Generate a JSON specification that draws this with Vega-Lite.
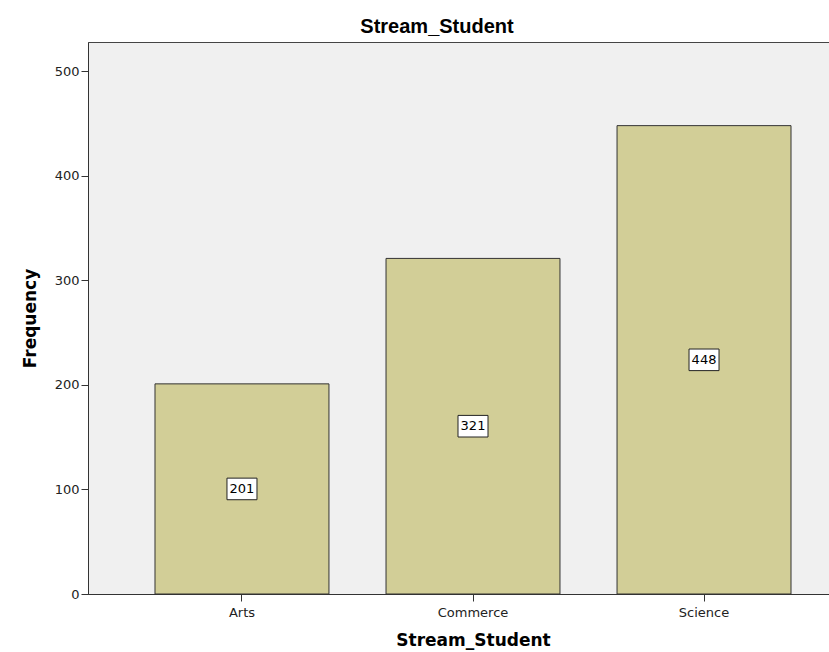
{
  "$schema": "https://vega.github.io/schema/vega-lite/v6.json",
  "autosize": {"type": "none"},
  "padding": {"left": 88, "top": 42, "right": 0, "bottom": 58},
  "width": 770,
  "height": 552,
  "background": "white",
  "title": {
    "text": "Stream_Student",
    "font": "Liberation Sans",
    "fontSize": 20,
    "fontWeight": "bold",
    "color": "#000000",
    "offset": 5,
    "dx": -36
  },
  "data": {
    "values": [
      {"Stream_Student": "Arts", "Frequency": 201},
      {"Stream_Student": "Commerce", "Frequency": 321},
      {"Stream_Student": "Science", "Frequency": 448}
    ]
  },
  "config": {
    "view": {"fill": "#F0F0F0", "stroke": "#444444", "strokeWidth": 1},
    "axis": {
      "labelFont": "DejaVu Sans",
      "labelFontSize": 13,
      "labelColor": "#222222",
      "titleFont": "DejaVu Sans",
      "titleFontSize": 17,
      "titleFontWeight": "bold",
      "titleColor": "#000000",
      "domainColor": "#333333",
      "tickColor": "#333333",
      "grid": false
    }
  },
  "encoding": {
    "x": {
      "field": "Stream_Student",
      "type": "nominal",
      "scale": {"paddingInner": 0.247, "paddingOuter": 0.29},
      "axis": {"labelAngle": 0, "tickSize": 7, "labelPadding": 5, "title": "Stream_Student", "titlePadding": 13}
    }
  },
  "resolve": {"scale": {"y": "independent"}},
  "layer": [
    {
      "mark": {"type": "bar", "fill": "#D2CE97", "stroke": "#333333", "strokeWidth": 1},
      "encoding": {
        "y": {
          "field": "Frequency",
          "type": "quantitative",
          "scale": {"domain": [0, 528], "nice": false},
          "axis": {"values": [0, 100, 200, 300, 400, 500], "tickSize": 7, "labelPadding": 2, "title": "Frequency", "titlePadding": 15}
        }
      }
    },
    {
      "mark": {"type": "point", "shape": "M-1,-0.72L1,-0.72L1,0.72L-1,0.72Z", "size": 900, "filled": true, "fill": "white", "stroke": "#222222", "strokeWidth": 1, "opacity": 1},
      "encoding": {
        "y": {"field": "Frequency", "type": "quantitative", "scale": {"domain": [0, 1056], "nice": false}, "axis": null}
      }
    },
    {
      "mark": {"type": "text", "font": "DejaVu Sans", "fontSize": 13, "color": "#000000", "baseline": "middle"},
      "encoding": {
        "y": {"field": "Frequency", "type": "quantitative", "scale": {"domain": [0, 1056], "nice": false}, "axis": null},
        "text": {"field": "Frequency", "type": "quantitative"}
      }
    }
  ]
}
